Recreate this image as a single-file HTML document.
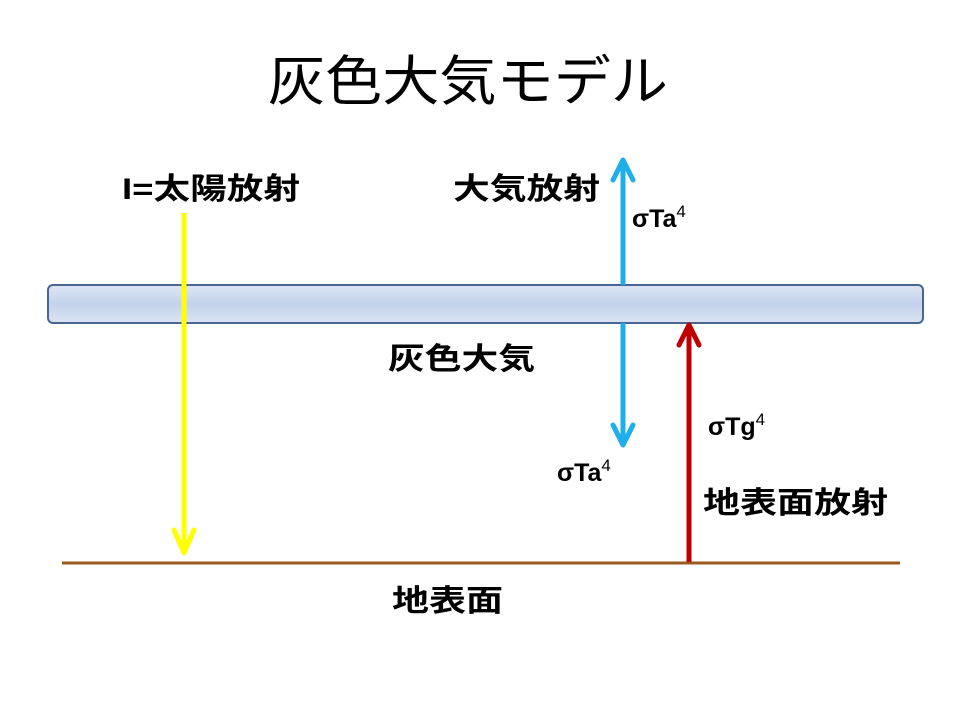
<!DOCTYPE html>
<html><head><meta charset="utf-8"><style>
body{margin:0;background:#fff}
text{font-family:"Liberation Sans","Noto Sans CJK JP",sans-serif;fill:#000}
</style></head><body>
<svg width="960" height="720" xmlns="http://www.w3.org/2000/svg">
<defs>
<linearGradient id="g" x1="0" y1="0" x2="0" y2="1">
<stop offset="0" stop-color="#dde6f4"/><stop offset="0.5" stop-color="#c3d3ec"/><stop offset="1" stop-color="#dbe4f3"/>
</linearGradient>
</defs>
<text x="268" y="100" font-size="54" textLength="400" lengthAdjust="spacingAndGlyphs">灰色大気モデル</text>
<rect x="48" y="285" width="875" height="38" rx="5" fill="url(#g)" stroke="#4a6592" stroke-width="2"/>
<line x1="184" y1="213" x2="184" y2="553" stroke="#ffff00" stroke-width="5"/>
<polyline points="174,530 184,553 194,530" fill="none" stroke="#ffff00" stroke-width="5" stroke-linejoin="round" stroke-linecap="round"/>
<line x1="623" y1="285" x2="623" y2="160" stroke="#1eaeea" stroke-width="5"/>
<polyline points="613,180 623,160 633,180" fill="none" stroke="#1eaeea" stroke-width="5" stroke-linecap="round" stroke-linejoin="round"/>
<line x1="623" y1="323" x2="623" y2="445" stroke="#1eaeea" stroke-width="5"/>
<polyline points="613,425 623,445 633,425" fill="none" stroke="#1eaeea" stroke-width="5" stroke-linecap="round" stroke-linejoin="round"/>
<line x1="62" y1="563" x2="900" y2="563" stroke="#9a5a1e" stroke-width="3"/>
<line x1="689" y1="562" x2="689" y2="324" stroke="#c00000" stroke-width="5"/>
<polyline points="679,345 689,325 699,345" fill="none" stroke="#c00000" stroke-width="5" stroke-linecap="round" stroke-linejoin="round"/>
<text x="122" y="199" font-size="30" font-weight="bold" textLength="178" lengthAdjust="spacingAndGlyphs">I=太陽放射</text>
<text x="453" y="199" font-size="30" font-weight="bold" textLength="147" lengthAdjust="spacingAndGlyphs">大気放射</text>
<text x="632" y="227" font-size="25" font-weight="bold">σTa<tspan font-size="17" dy="-10" font-weight="normal">4</tspan></text>
<text x="388" y="369" font-size="30" font-weight="bold" textLength="147" lengthAdjust="spacingAndGlyphs">灰色大気</text>
<text x="708" y="435" font-size="25" font-weight="bold">σTg<tspan font-size="17" dy="-10" font-weight="normal">4</tspan></text>
<text x="557" y="481" font-size="25" font-weight="bold">σTa<tspan font-size="17" dy="-10" font-weight="normal">4</tspan></text>
<text x="703" y="513" font-size="30" font-weight="bold" textLength="185" lengthAdjust="spacingAndGlyphs">地表面放射</text>
<text x="392" y="611" font-size="30" font-weight="bold" textLength="111" lengthAdjust="spacingAndGlyphs">地表面</text>
</svg>
</body></html>
